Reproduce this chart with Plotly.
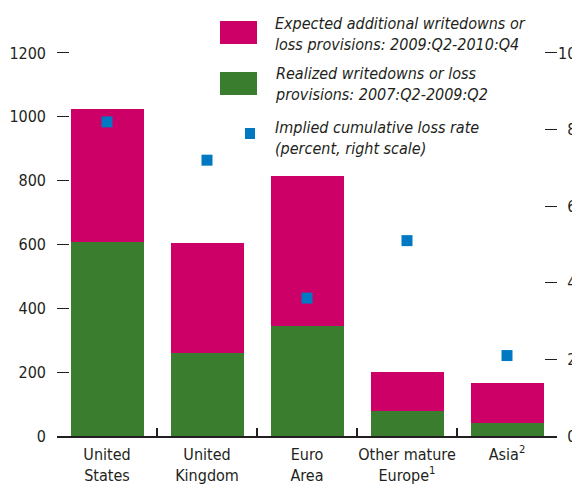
import plotly.graph_objects as go

categories = ["United States", "United Kingdom", "Euro Area", "Other mature Europe", "Asia"]
tick_labels = ["United<br>States", "United<br>Kingdom", "Euro<br>Area",
               "Other mature<br>Europe<sup>1</sup>", "Asia<sup>2</sup>"]
realized = [607, 260, 346, 78, 40]
expected = [418, 344, 468, 122, 125]
loss_rate = [8.2, 7.2, 3.6, 5.1, 2.1]
left_ticks = [0, 200, 400, 600, 800, 1000, 1200]
right_ticks = [0, 2, 4, 6, 8, 10]
right_tick_text = ["\u00a0\u00a00", "\u00a0\u00a02", "\u00a0\u00a04", "\u00a0\u00a06", "\u00a0\u00a08", "10"]

MAGENTA = "#CC0066"
GREEN = "#3A7D2E"
BLUE = "#0079C2"
TXT = "#231F20"
FONT = "DejaVu Sans Condensed, sans-serif"
FS = 16

fig = go.Figure()
fig.add_trace(go.Bar(x=categories, y=realized, marker=dict(color=GREEN, line=dict(width=0)),
                     width=0.73, name="Realized", showlegend=False))
fig.add_trace(go.Bar(x=categories, y=expected, marker=dict(color=MAGENTA, line=dict(width=0)),
                     width=0.73, name="Expected", showlegend=False))
fig.add_trace(go.Scatter(x=categories, y=loss_rate, mode="markers", yaxis="y2",
                         marker=dict(symbol="square", size=11, color=BLUE),
                         showlegend=False))

# legend drawn manually (positions given as fractions of the plot area)
def px(x):
    return (x - 57) / 500.0

def py(y):
    return (436 - y) / 415.0

shapes = [
    dict(type="rect", xref="paper", yref="paper", x0=px(220), x1=px(257), y0=py(44), y1=py(21),
         fillcolor=MAGENTA, line=dict(width=0)),
    dict(type="rect", xref="paper", yref="paper", x0=px(220), x1=px(257), y0=py(95), y1=py(72),
         fillcolor=GREEN, line=dict(width=0)),
    dict(type="rect", xref="paper", yref="paper", x0=px(245), x1=px(255), y0=py(139), y1=py(128),
         fillcolor=BLUE, line=dict(width=0)),
]
legend_texts = [
    ("Expected additional writedowns or<br>loss provisions: 2009:Q2-2010:Q4", 34),
    ("Realized writedowns or loss<br>provisions: 2007:Q2-2009:Q2", 84),
    ("Implied cumulative loss rate<br>(percent, right scale)", 138),
]
annotations = []
for t, yc in legend_texts:
    annotations.append(dict(text="<i>" + t + "</i>", xref="paper", yref="paper", x=px(273), y=py(yc),
                            xanchor="left", yanchor="middle", align="left", showarrow=False,
                            font=dict(family=FONT, size=FS, color=TXT)))

fig.update_layout(
    width=572, height=482,
    margin=dict(l=49, r=23, t=13, b=54, autoexpand=False),
    plot_bgcolor="white", paper_bgcolor="white",
    barmode="stack", bargap=0.27,
    font=dict(family=FONT, size=FS, color=TXT),
    shapes=shapes, annotations=annotations,
    xaxis=dict(range=[-0.5, 4.5], tickmode="array", tickvals=categories, ticktext=tick_labels,
               tickangle=0, automargin=False, ticklabelstandoff=3,
               showline=True, linecolor=TXT, linewidth=1.5, ticks="inside", tickson="boundaries",
               ticklen=8, tickwidth=1.5, tickcolor=TXT, showgrid=False, zeroline=False,
               tickfont=dict(family=FONT, size=FS, color=TXT)),
    yaxis=dict(range=[0, 1300], tickvals=left_ticks, ticks="inside", ticklen=12, tickwidth=1.2,
               tickcolor=TXT, showline=False, showgrid=False, zeroline=False, automargin=False,
               ticklabelstandoff=10,
               tickfont=dict(family=FONT, size=FS, color=TXT)),
    yaxis2=dict(range=[0, 1300 / 120.0], overlaying="y", side="right", tickvals=right_ticks,
                ticktext=right_tick_text, ticks="inside", ticklen=12, tickwidth=1.2, tickcolor=TXT,
                showline=False, showgrid=False, zeroline=False, automargin=False,
                tickfont=dict(family=FONT, size=FS, color=TXT)),
)

fig.write_html("out.html")
